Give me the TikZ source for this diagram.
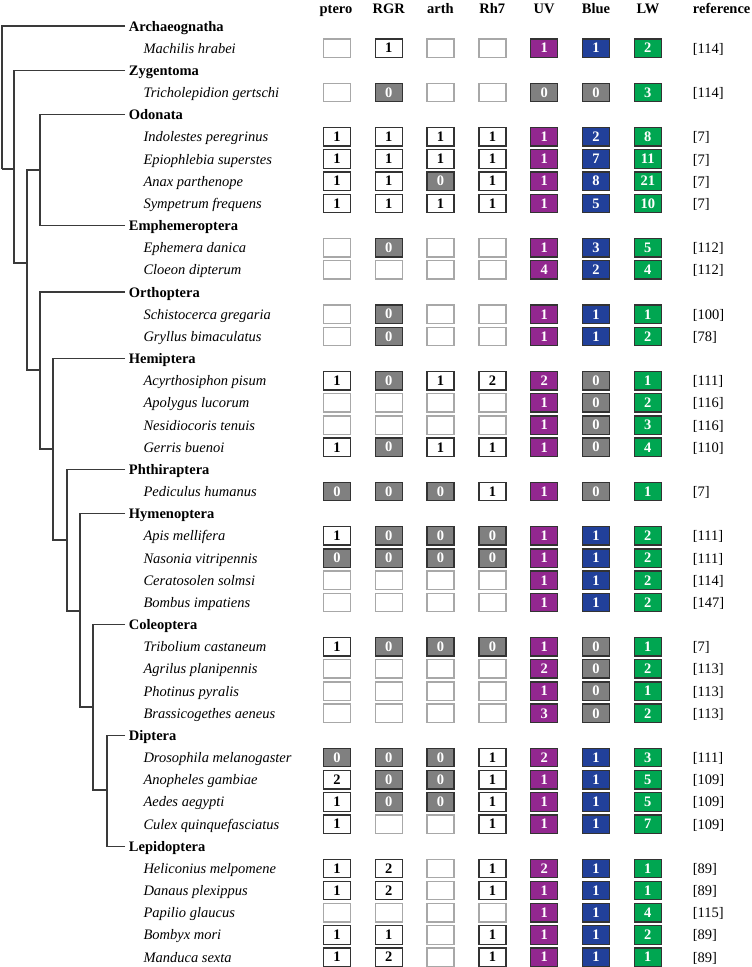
\documentclass[tikz,border=0pt]{standalone}
\usepackage{fontspec}
\setmainfont{Liberation Serif}
\definecolor{uvc}{HTML}{92278F}
\definecolor{bluec}{HTML}{21409A}
\definecolor{lwc}{HTML}{00A651}
\definecolor{grc}{HTML}{808080}
\definecolor{edgec}{HTML}{333333}
\definecolor{emptyc}{HTML}{A8A8A8}
\definecolor{treec}{HTML}{3A3A3A}
\newcommand\txtfont{\fontsize{14.5}{17}\selectfont}
\tikzset{
  cellbase/.style={rectangle, minimum width=27pt, minimum height=18.4pt, inner sep=0pt,
    line width=1.3pt, font=\txtfont\bfseries},
  cE/.style={cellbase, draw=emptyc, fill=white},
  cW/.style={cellbase, draw=edgec, fill=white, text=black},
  cG/.style={cellbase, draw=edgec, fill=grc, text=white},
  cU/.style={cellbase, draw=edgec, fill=uvc, text=white},
  cB/.style={cellbase, draw=edgec, fill=bluec, text=white},
  cL/.style={cellbase, draw=edgec, fill=lwc, text=white},
  species/.style={anchor=west, inner xsep=3.3pt, inner ysep=0pt, text height=11pt, text depth=1pt, font=\txtfont\itshape},
  order/.style={anchor=west, inner xsep=3.7pt, inner ysep=0pt, text height=11pt, text depth=1pt, font=\txtfont\bfseries},
  refl/.style={anchor=west, inner xsep=2.7pt, inner ysep=0pt, text height=11pt, text depth=1pt, font=\txtfont},
  header/.style={anchor=base, inner sep=0pt, font=\txtfont\bfseries},
  branch/.style={draw=treec, line width=1.3pt},
}
\newcommand\ordrow[3]{%
  \pgfmathsetmacro\yy{26+22.17*#1}
  \node[order] (#2) at (125,\yy) {#3};
}
\newcommand\datarow[4]{%
  \pgfmathsetmacro\yy{26+22.17*#1}
  \node[species] (sp#1) at (140,\yy) {#2};
  \foreach \s/\n [count=\c] in {#3} {
    \node[\s] (c#1-\c) at ({337+51.8*(\c-1)},\yy) {\n};
  }
  \node[refl] (ref#1) at (690,\yy) {#4};
}
\begin{document}
\begin{tikzpicture}[x=1pt,y=-1pt]
\useasboundingbox (0,0) rectangle (752,967);
% headers
\node[header] (h1) at (336,13) {ptero};
\node[header] (h2) at (388.7,13) {RGR};
\node[header] (h3) at (440.5,13) {arth};
\node[header] (h4) at (492.3,13) {Rh7};
\node[header] (h5) at (544,13) {UV};
\node[header] (h6) at (596,13) {Blue};
\node[header] (h7) at (648,13) {LW};
\node[header] (h8) at (721.7,13) {reference};
% orders
\ordrow{0}{arch}{Archaeognatha}
\ordrow{2}{zyg}{Zygentoma}
\ordrow{4}{odo}{Odonata}
\ordrow{9}{eph}{Emphemeroptera}
\ordrow{12}{ort}{Orthoptera}
\ordrow{15}{hem}{Hemiptera}
\ordrow{20}{phth}{Phthiraptera}
\ordrow{22}{hym}{Hymenoptera}
\ordrow{27}{col}{Coleoptera}
\ordrow{32}{dip}{Diptera}
\ordrow{37}{lep}{Lepidoptera}
% tree
\coordinate (R) at (2,169);
\coordinate (C1) at (14,169);
\coordinate (C2) at (27,263);
\coordinate (C3) at (40,170);
\coordinate (C4) at (40,370);
\coordinate (C5) at (53,449);
\coordinate (C6) at (67,540);
\coordinate (C7) at (80,611);
\coordinate (C8) at (93,707);
\coordinate (C9) at (107,790);
\draw[branch] (arch.west) -| (R);
\draw[branch] (C1) -| (R);
\draw[branch] (zyg.west) -| (C1);
\draw[branch] (C2) -| (C1);
\draw[branch] (C3) -| (C2);
\draw[branch] (C4) -| (C2);
\draw[branch] (odo.west) -| (C3);
\draw[branch] (eph.west) -| (C3);
\draw[branch] (ort.west) -| (C4);
\draw[branch] (C5) -| (C4);
\draw[branch] (hem.west) -| (C5);
\draw[branch] (C6) -| (C5);
\draw[branch] (phth.west) -| (C6);
\draw[branch] (C7) -| (C6);
\draw[branch] (hym.west) -| (C7);
\draw[branch] (C8) -| (C7);
\draw[branch] (col.west) -| (C8);
\draw[branch] (C9) -| (C8);
\draw[branch] (dip.west) -| (C9);
\draw[branch] (lep.west) -| (C9);
% data rows
\datarow{1}{Machilis hrabei}{cE/{},cW/1,cE/{},cE/{},cU/1,cB/1,cL/2}{[114]}
\datarow{3}{Tricholepidion gertschi}{cE/{},cG/0,cE/{},cE/{},cG/0,cG/0,cL/3}{[114]}
\datarow{5}{Indolestes peregrinus}{cW/1,cW/1,cW/1,cW/1,cU/1,cB/2,cL/8}{[7]}
\datarow{6}{Epiophlebia superstes}{cW/1,cW/1,cW/1,cW/1,cU/1,cB/7,cL/11}{[7]}
\datarow{7}{Anax parthenope}{cW/1,cW/1,cG/0,cW/1,cU/1,cB/8,cL/21}{[7]}
\datarow{8}{Sympetrum frequens}{cW/1,cW/1,cW/1,cW/1,cU/1,cB/5,cL/10}{[7]}
\datarow{10}{Ephemera danica}{cE/{},cG/0,cE/{},cE/{},cU/1,cB/3,cL/5}{[112]}
\datarow{11}{Cloeon dipterum}{cE/{},cE/{},cE/{},cE/{},cU/4,cB/2,cL/4}{[112]}
\datarow{13}{Schistocerca gregaria}{cE/{},cG/0,cE/{},cE/{},cU/1,cB/1,cL/1}{[100]}
\datarow{14}{Gryllus bimaculatus}{cE/{},cG/0,cE/{},cE/{},cU/1,cB/1,cL/2}{[78]}
\datarow{16}{Acyrthosiphon pisum}{cW/1,cG/0,cW/1,cW/2,cU/2,cG/0,cL/1}{[111]}
\datarow{17}{Apolygus lucorum}{cE/{},cE/{},cE/{},cE/{},cU/1,cG/0,cL/2}{[116]}
\datarow{18}{Nesidiocoris tenuis}{cE/{},cE/{},cE/{},cE/{},cU/1,cG/0,cL/3}{[116]}
\datarow{19}{Gerris buenoi}{cW/1,cG/0,cW/1,cW/1,cU/1,cG/0,cL/4}{[110]}
\datarow{21}{Pediculus humanus}{cG/0,cG/0,cG/0,cW/1,cU/1,cG/0,cL/1}{[7]}
\datarow{23}{Apis mellifera}{cW/1,cG/0,cG/0,cG/0,cU/1,cB/1,cL/2}{[111]}
\datarow{24}{Nasonia vitripennis}{cG/0,cG/0,cG/0,cG/0,cU/1,cB/1,cL/2}{[111]}
\datarow{25}{Ceratosolen solmsi}{cE/{},cE/{},cE/{},cE/{},cU/1,cB/1,cL/2}{[114]}
\datarow{26}{Bombus impatiens}{cE/{},cE/{},cE/{},cE/{},cU/1,cB/1,cL/2}{[147]}
\datarow{28}{Tribolium castaneum}{cW/1,cG/0,cG/0,cG/0,cU/1,cG/0,cL/1}{[7]}
\datarow{29}{Agrilus planipennis}{cE/{},cE/{},cE/{},cE/{},cU/2,cG/0,cL/2}{[113]}
\datarow{30}{Photinus pyralis}{cE/{},cE/{},cE/{},cE/{},cU/1,cG/0,cL/1}{[113]}
\datarow{31}{Brassicogethes aeneus}{cE/{},cE/{},cE/{},cE/{},cU/3,cG/0,cL/2}{[113]}
\datarow{33}{Drosophila melanogaster}{cG/0,cG/0,cG/0,cW/1,cU/2,cB/1,cL/3}{[111]}
\datarow{34}{Anopheles gambiae}{cW/2,cG/0,cG/0,cW/1,cU/1,cB/1,cL/5}{[109]}
\datarow{35}{Aedes aegypti}{cW/1,cG/0,cG/0,cW/1,cU/1,cB/1,cL/5}{[109]}
\datarow{36}{Culex quinquefasciatus}{cW/1,cE/{},cE/{},cW/1,cU/1,cB/1,cL/7}{[109]}
\datarow{38}{Heliconius melpomene}{cW/1,cW/2,cE/{},cW/1,cU/2,cB/1,cL/1}{[89]}
\datarow{39}{Danaus plexippus}{cW/1,cW/2,cE/{},cW/1,cU/1,cB/1,cL/1}{[89]}
\datarow{40}{Papilio glaucus}{cE/{},cE/{},cE/{},cE/{},cU/1,cB/1,cL/4}{[115]}
\datarow{41}{Bombyx mori}{cW/1,cW/1,cE/{},cW/1,cU/1,cB/1,cL/2}{[89]}
\datarow{42}{Manduca sexta}{cW/1,cW/2,cE/{},cW/1,cU/1,cB/1,cL/1}{[89]}
\end{tikzpicture}
\end{document}
